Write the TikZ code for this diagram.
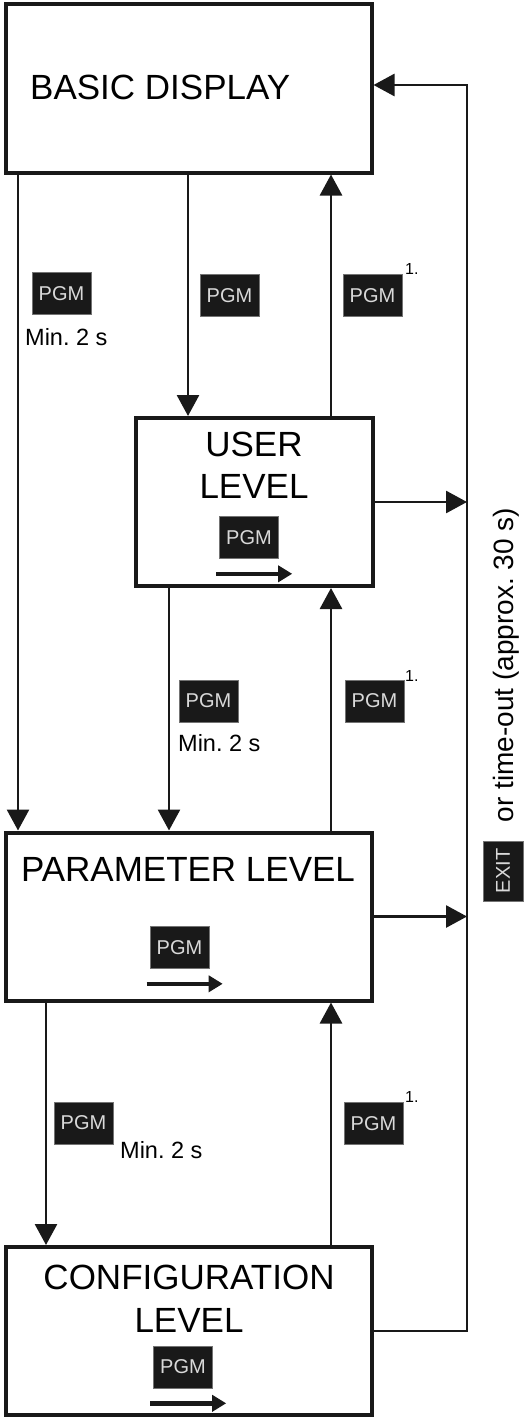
\documentclass[tikz,border=0pt]{standalone}
\usepackage{fontspec}
\setmainfont{Liberation Sans}
\usetikzlibrary{arrows.meta}
\tikzset{
  levelbox/.style={draw=black!90, line width=4pt, minimum height=168pt, inner sep=0pt},
  leveltitle/.style={inner sep=0pt, align=center, font=\fontsize{35}{42}\selectfont},
  link/.style={draw=black!90, line width=2.8pt, -{Triangle[length=21pt,width=22pt]}},
  pgmkey/.style={fill=black!90, draw=black!55, line width=0.6pt, text=white!85!black,
    minimum width=59pt, minimum height=42pt, inner sep=0pt, font=\fontsize{20}{24}\selectfont},
  keyarrow/.style={draw=black!90, line width=4.5pt, -{Triangle[length=14pt,width=16pt]}},
  holdnote/.style={inner sep=0pt, font=\fontsize{23.5}{28}\selectfont},
  stepnote/.style={inner sep=0pt, font=\fontsize{16}{19}\selectfont}
}
\begin{document}
\begin{tikzpicture}[x=1pt,y=-1pt]
 \useasboundingbox (0,0) rectangle (525,1418);
 % levels
 \node[levelbox, minimum width=366pt] (basic) at (188.5,88.5) {};
 \node[levelbox, minimum width=237pt] (user) at (254,502) {};
 \node[levelbox, minimum width=366pt] (param) at (188.5,916.5) {};
 \node[levelbox, minimum width=366pt] (config) at (188.5,1331) {};
 \node[leveltitle, anchor=base west] (basict) at (30,100) {BASIC DISPLAY};
 \node[leveltitle, anchor=north] (usert) at (254,432) {USER\\LEVEL};
 \node[leveltitle, anchor=base] (paramt) at (188,881) {PARAMETER LEVEL};
 \node[leveltitle, anchor=north, font=\fontsize{35}{43}\selectfont] (configt) at (189,1265) {CONFIGURATION\\LEVEL};
 % keys inside the levels
 \node[pgmkey] (userk) at (249,537.5) {PGM};
 \node[pgmkey] (paramk) at (179.5,947.5) {PGM};
 \node[pgmkey] (configk) at (183,1367) {PGM};
 \draw[keyarrow] (userk.south west) ++(-3,15) -- ++(76,0);
 \draw[keyarrow] (paramk.south west) ++(-3,15) -- ++(76,0);
 \draw[keyarrow] (configk.south west) ++(-3,15) -- ++(76,0);
 % connectors
 \coordinate (lx) at (18,0);
 \coordinate (mx) at (188,0);
 \coordinate (ux) at (331,0);
 \coordinate (px) at (169,0);
 \coordinate (cx) at (46,0);
 \coordinate (rt) at (467,85);
 \draw[link] (basic.south -| lx) -- (param.north -| lx);
 \draw[link] (basic.south -| mx) -- (user.north -| mx);
 \draw[link] (user.north -| ux) -- (basic.south -| ux);
 \draw[link] (user.south -| px) -- (param.north -| px);
 \draw[link] (param.north -| ux) -- (user.south -| ux);
 \draw[link] (param.south -| cx) -- (config.north -| cx);
 \draw[link] (config.north -| ux) -- (param.south -| ux);
 \draw[link] (user.east) -- (user.east -| rt);
 \draw[link] (param.east) -- (param.east -| rt);
 \draw[link] (config.east) -| (rt) -- (rt -| basic.east);
 % key labels
 \node[pgmkey] (k1) at (61.5,293.5) {PGM};
 \node[holdnote, anchor=base west] (t1) at (25,345) {Min.\ 2 s};
 \node[pgmkey] (k2) at (229.5,295.5) {PGM};
 \node[pgmkey] (k3) at (372.5,295.5) {PGM};
 \node[stepnote, anchor=base west] (n3) at (405,274) {1.};
 \node[pgmkey] (k4) at (208.5,701) {PGM};
 \node[holdnote, anchor=base west] (t4) at (178,751) {Min.\ 2 s};
 \node[pgmkey] (k5) at (374.5,701) {PGM};
 \node[stepnote, anchor=base west] (n5) at (405,681) {1.};
 \node[pgmkey] (k6) at (83.5,1123) {PGM};
 \node[holdnote, anchor=base west] (t6) at (120,1158) {Min.\ 2 s};
 \node[pgmkey] (k7) at (373.5,1123.5) {PGM};
 \node[stepnote, anchor=base west] (n7) at (405,1102) {1.};
 % exit
 \node[pgmkey, rotate=90, minimum width=60pt, minimum height=40pt] (exitk) at (503,871) {EXIT};
 \node[rotate=90, inner sep=0pt, font=\fontsize{28}{34}\selectfont] (timeout) at (506,665) {or time-out (approx.\ 30 s)};
\end{tikzpicture}
\end{document}
